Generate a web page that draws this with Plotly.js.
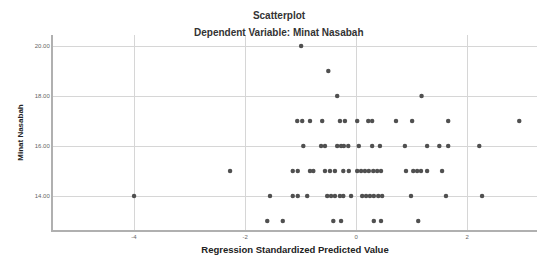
<!DOCTYPE html>
<html>
<head>
<meta charset="utf-8">
<script src="https://cdn.plot.ly/plotly-3.0.1.min.js"></script>
<style>
  html, body { margin: 0; padding: 0; background: #ffffff; }
  #chart { width: 537px; height: 258px; }
</style>
</head>
<body>
<div id="chart"></div>
<script>
// Regression standardized predicted values, grouped by observed Minat Nasabah value
const predY20 = [-0.99];
const predY19 = [-0.50];
const predY18 = [-0.34, 1.18];
const predY17 = [-1.06, -0.97, -0.83, -0.61, -0.29, -0.20, 0.02, 0.22, 0.29, 0.72, 1.01, 1.66, 2.94];
const predY16 = [-0.95, -0.63, -0.56, -0.34, -0.27, -0.22, -0.14, 0.05, 0.29, 0.43, 0.88, 1.28, 1.50, 1.66, 2.22];
const predY15 = [-2.27, -1.14, -1.05, -0.83, -0.77, -0.56, -0.47, -0.38, -0.23, -0.13, 0.02, 0.09, 0.16, 0.23, 0.31, 0.38, 0.45, 0.90, 1.03, 1.10, 1.17, 1.28, 1.55];
const predY14 = [-4.00, -1.55, -1.14, -1.05, -0.88, -0.52, -0.45, -0.38, -0.29, -0.23, -0.09, 0.11, 0.18, 0.25, 0.32, 0.40, 0.47, 0.99, 1.62, 2.27];
const predY13 = [-1.60, -1.32, -0.41, -0.27, 0.32, 0.45, 1.12];

const observedLevels = [20, 19, 18, 17, 16, 15, 14, 13];
const groups = [predY20, predY19, predY18, predY17, predY16, predY15, predY14, predY13];

const xTickVals = [-4, -2, 0, 2];
const xTickText = ['-4', '-2', '0', '2'];
const yTickVals = [14, 16, 18, 20];
const yTickText = ['14.00', '16.00', '18.00', '20.00'];

const xs = [], ys = [];
groups.forEach((g, i) => g.forEach(v => { xs.push(v); ys.push(observedLevels[i]); }));

const font = 'Liberation Sans, Arial, sans-serif';

const trace = {
  type: 'scatter',
  mode: 'markers',
  x: xs,
  y: ys,
  marker: { size: 4.5, color: '#505050', line: { width: 0 } },
  hoverinfo: 'x+y',
  showlegend: false
};

const layout = {
  width: 537,
  height: 258,
  margin: { l: 53, r: 0, t: 35, b: 28, pad: 0 },
  paper_bgcolor: '#ffffff',
  plot_bgcolor: '#ffffff',
  font: { family: font, color: '#333' },
  title: {
    text: '<b>Scatterplot</b>',
    font: { family: font, size: 10, color: '#333' },
    x: 279 / 537, xref: 'container', xanchor: 'center',
    y: 1 - 15 / 258, yref: 'container', yanchor: 'middle'
  },
  annotations: [{
    text: '<b>Dependent Variable: Minat Nasabah</b>',
    xref: 'paper', yref: 'paper',
    x: (279 - 53) / 484, y: (230 - 32) / 195,
    xanchor: 'center', yanchor: 'middle',
    showarrow: false,
    font: { family: font, size: 10, color: '#333' }
  }],
  xaxis: {
    range: [-5.46, 3.26],
    tickvals: xTickVals,
    ticktext: xTickText,
    tickfont: { family: font, size: 6, color: '#666' },
    ticks: '',
    showgrid: true,
    gridcolor: '#d6d6d6',
    gridwidth: 1,
    zeroline: false,
    showline: true,
    linecolor: '#b0b0b0',
    linewidth: 2,
    title: {
      text: '<b>Regression Standardized Predicted Value</b>',
      font: { family: font, size: 9.5, color: '#222' },
      standoff: 7
    }
  },
  yaxis: {
    range: [12.64, 20.44],
    tickvals: yTickVals,
    ticktext: yTickText,
    tickfont: { family: font, size: 6, color: '#666' },
    ticks: '',
    showgrid: true,
    gridcolor: '#d6d6d6',
    gridwidth: 1,
    zeroline: false,
    showline: true,
    linecolor: '#b0b0b0',
    linewidth: 2,
    title: {
      text: '<b>Minat Nasabah</b>',
      font: { family: font, size: 8, color: '#222' },
      standoff: 10
    }
  }
};

Plotly.newPlot('chart', [trace], layout, { displayModeBar: false, staticPlot: true });
</script>
</body>
</html>
